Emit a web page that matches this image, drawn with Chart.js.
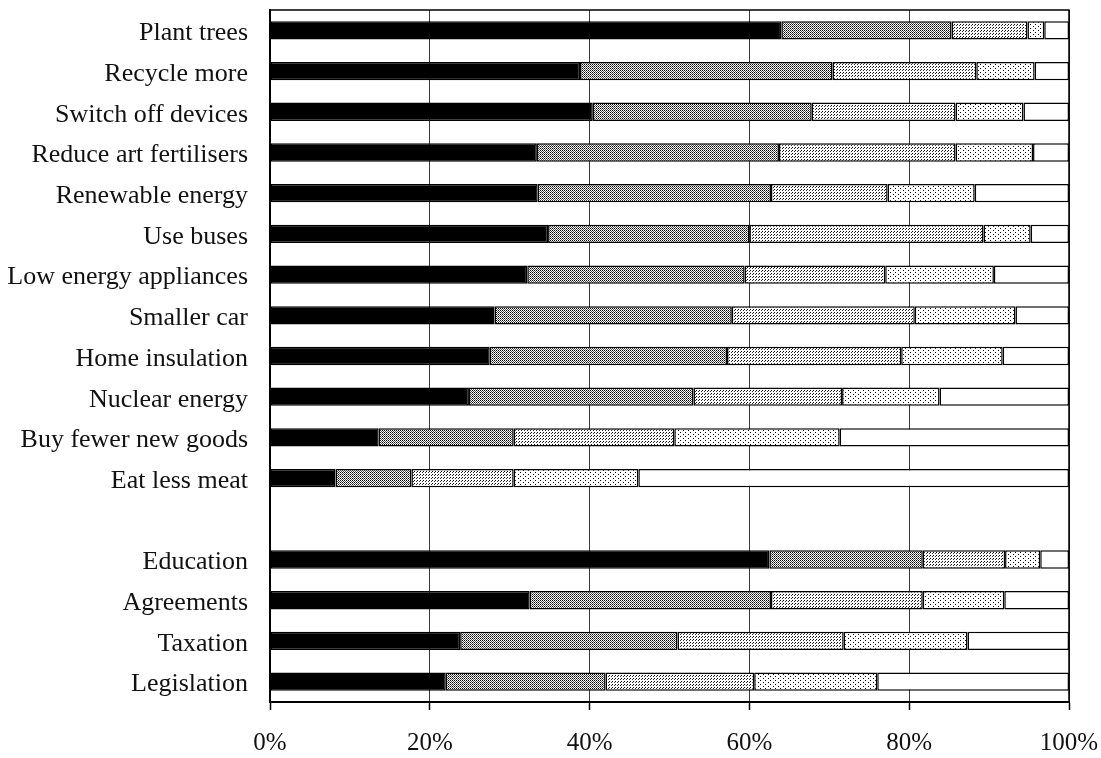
<!DOCTYPE html>
<html>
<head>
<meta charset="utf-8">
<script src="https://cdn.jsdelivr.net/npm/chart.js@4"></script>
<style>
    html, body { margin: 0; padding: 0; background: #fff; }
    #wrap { width: 1101px; height: 758px; }
</style>
</head>
<body>
<div id="wrap"><canvas id="barChart" width="1101" height="758"></canvas></div>
<script>
const categories = [
    'Plant trees', 'Recycle more', 'Switch off devices', 'Reduce art fertilisers',
    'Renewable energy', 'Use buses', 'Low energy appliances', 'Smaller car',
    'Home insulation', 'Nuclear energy', 'Buy fewer new goods', 'Eat less meat',
    '',
    'Education', 'Agreements', 'Taxation', 'Legislation'
];

// five answer levels (percent of respondents)
const level1 = [64.0, 38.8, 40.4, 33.4, 33.5, 34.8, 32.2, 28.1, 27.5, 24.9, 13.6, 8.2, null, 62.5, 32.5, 23.8, 22.0];
const level2 = [21.3, 31.6, 27.4, 30.3, 29.2, 25.2, 27.2, 29.7, 29.7, 28.1, 16.9, 9.5, null, 19.2, 30.2, 27.2, 20.0];
const level3 = [9.5, 18.0, 18.0, 22.1, 14.6, 29.3, 17.6, 22.9, 21.8, 18.6, 20.1, 12.8, null, 10.3, 19.0, 20.8, 18.6];
const level4 = [2.1, 7.3, 8.5, 9.7, 10.9, 5.9, 13.6, 12.6, 12.7, 12.2, 20.7, 15.6, null, 4.4, 10.2, 15.5, 15.4];
const level5 = [3.1, 4.3, 5.7, 4.5, 11.8, 4.8, 9.4, 6.7, 8.3, 16.2, 28.7, 53.9, null, 3.6, 8.1, 12.7, 24.0];

const xTicks = [0, 20, 40, 60, 80, 100];

function dotPattern(w, h, bg, dots) {
    const c = document.createElement('canvas');
    c.width = w;
    c.height = h;
    const g = c.getContext('2d');
    g.fillStyle = bg;
    g.fillRect(0, 0, w, h);
    dots.forEach(([x, y, col]) => {
        g.fillStyle = col;
        g.fillRect(x, y, 1, 1);
    });
    return g.createPattern(c, 'repeat');
}

const ctx = document.getElementById('barChart').getContext('2d');

const fills = [
    '#000000',
    dotPattern(2, 2, '#ffffff', [[0, 0, '#000'], [1, 1, '#555']]),
    dotPattern(3, 3, '#ffffff', [[0, 0, '#000'], [2, 1, '#333']]),
    dotPattern(5, 4, '#ffffff', [[0, 0, '#000'], [3, 2, '#000']]),
    '#ffffff'
];

const series = [level1, level2, level3, level4, level5];

const datasets = series.map((values, i) => ({
    label: 'level ' + (i + 1),
    data: values,
    backgroundColor: fills[i],
    borderColor: '#000',
    borderWidth: 1.5,
    borderSkipped: false,
    barPercentage: 0.45,
    categoryPercentage: 1.0
}));

// box round the plot area
const frame = {
    id: 'frame',
    afterDatasetsDraw(chart) {
        const a = chart.chartArea;
        const c = chart.ctx;
        c.save();
        c.strokeStyle = '#000';
        c.lineWidth = 1.5;
        c.strokeRect(a.left, a.top, a.right - a.left, a.bottom - a.top);
        c.restore();
    }
};

new Chart(ctx, {
    type: 'bar',
    data: { labels: categories, datasets },
    plugins: [frame],
    options: {
        indexAxis: 'y',
        responsive: false,
        animation: false,
        layout: { padding: { top: 10, right: 32, bottom: 0, left: 0 } },
        plugins: {
            legend: { display: false },
            tooltip: { enabled: false }
        },
        scales: {
            x: {
                stacked: true,
                min: 0,
                max: 100,
                afterBuildTicks: (scale) => {
                    scale.ticks = xTicks.map(v => ({ value: v }));
                },
                afterFit: (scale) => {
                    scale.height = 56;
                    scale.paddingLeft = 0;
                    scale.paddingRight = 0;
                },
                ticks: {
                    callback: (v) => v + '%',
                    color: '#111',
                    padding: 18,
                    maxRotation: 0,
                    font: { family: 'Liberation Serif', size: 25 }
                },
                grid: {
                    color: '#3a3a3a',
                    lineWidth: 1,
                    drawTicks: true,
                    tickLength: 8,
                    tickColor: '#000',
                    tickWidth: 1.5
                },
                border: { display: true, color: '#000', width: 2 }
            },
            y: {
                stacked: true,
                afterFit: (scale) => {
                    scale.width = 270;
                    scale.paddingTop = 0;
                    scale.paddingBottom = 0;
                },
                ticks: {
                    color: '#111',
                    padding: 22,
                    labelOffset: 3,
                    font: { family: 'Liberation Serif', size: 26 }
                },
                grid: { display: false, drawTicks: false },
                border: { display: true, color: '#000', width: 2 }
            }
        }
    }
});
</script>
</body>
</html>
